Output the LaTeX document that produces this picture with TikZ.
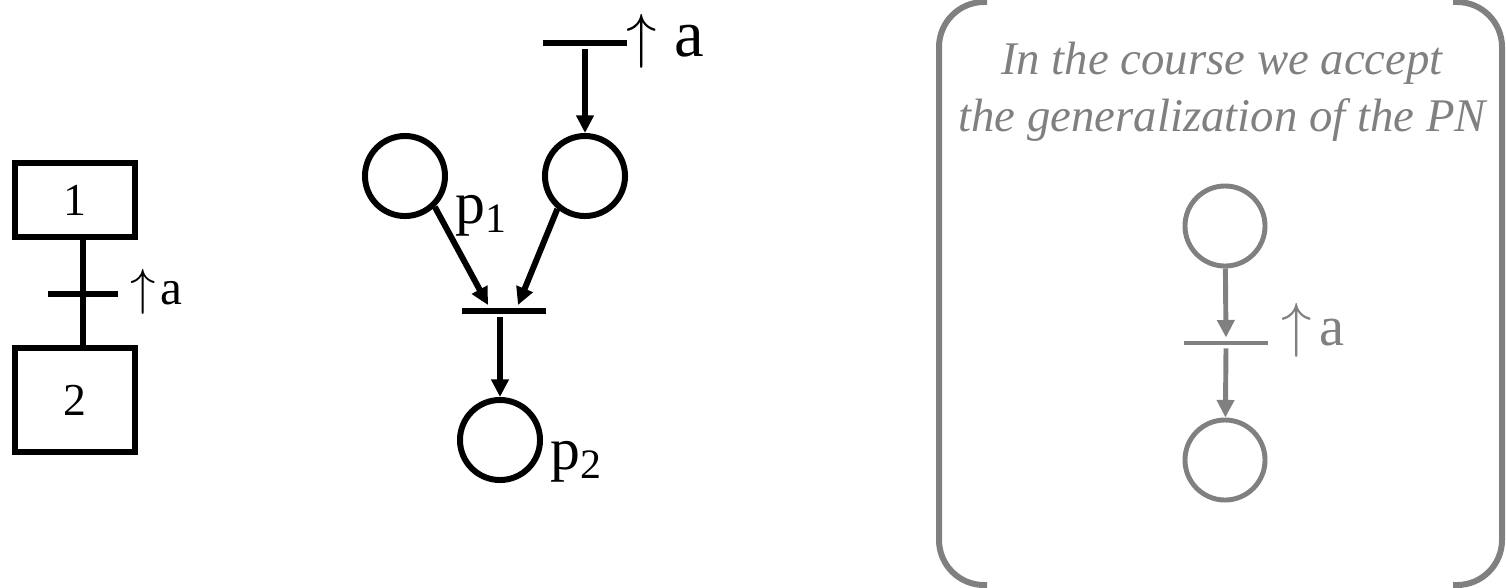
\documentclass[tikz,border=0pt]{standalone}
\usepackage{fontspec}
\setmainfont{Liberation Serif}
\usetikzlibrary{arrows.meta,positioning,calc}
\definecolor{cGray}{HTML}{808080}

\begin{document}
\begin{tikzpicture}[
    x=0.01cm, y=-0.01cm,
    line width=1.7pt,
    stepbox/.style={draw, line width=1.7pt, minimum width=1.2cm, inner sep=0pt, font=\fontsize{13}{15}\selectfont},
    place/.style={draw, circle, line width=1.7pt, minimum size=0.80cm, inner sep=0pt},
    trans/.style={fill, inner sep=0pt, minimum width=0.84cm, minimum height=1.7pt},
    arr/.style={-{Triangle[length=5pt,width=4.8pt]}, line width=1.7pt},
    big/.style={font=\fontsize{17}{20}\selectfont},
    gplace/.style={place, draw=cGray, line width=1.4pt},
    garr/.style={arr, draw=cGray, line width=1.4pt}
]
\useasboundingbox (0,0) rectangle (1506,587);

\node[stepbox, minimum height=0.74cm] (s1) at (75,200) {1};
\node[stepbox, minimum height=1.04cm] (s2) at (75,400) {2};
\node[trans, minimum width=0.7cm] (t0) at (83,294) {};
\draw (s1.south -| t0) -- (s2.north -| t0);
\node[anchor=west, font=\fontsize{14}{16}\selectfont] (e0) at (116,292) {$\uparrow$\hspace{1.2pt}a};

\node[trans] (ta) at (585,43) {};
\node[anchor=west, inner sep=0pt, font=\fontsize{19}{22}\selectfont] (ea) at (624,41) {$\uparrow$ a};
\node[place] (pr) at (585,176) {};
\node[place] (p1) at (405,176) {};
\node[anchor=west, big] (l1) at (441,216) {p\textsubscript{1}};
\node[trans] (tb) at (504,311) {};
\node[place] (p2) at (500,440) {};
\node[anchor=west, big] (l2) at (536,462) {p\textsubscript{2}};

\draw[arr] (ta) -- (pr);
\draw[arr] (p1.-46) -- ([xshift=-0.16cm]tb.north);
\draw[arr] (pr.-130) -- ([xshift=0.14cm]tb.north);
\draw[arr] (tb.south -| p2.north) -- (p2.north);

\draw[cGray, line width=1.7pt, rounded corners=0.45cm] (987,2) -- (939,2) -- (939,585) -- (987,585);
\draw[cGray, line width=1.7pt, rounded corners=0.45cm] (1453,2) -- (1502,2) -- (1502,585) -- (1453,585);
\node[text=cGray, font=\fontsize{13.3}{16.2}\selectfont\itshape, align=center] (note) at (1222,92) {In the course we accept\\the generalization of the PN};

\node[gplace] (g1) at (1225,226) {};
\node[trans, fill=cGray, minimum height=1.4pt] (tg) at (1226,343) {};
\node[gplace] (g2) at (1225,460) {};
\node[anchor=west, text=cGray, font=\fontsize{16}{18}\selectfont] (eg) at (1267,330) {$\uparrow$\hspace{2pt}a};
\draw[garr] (g1) -- (tg.north);
\draw[garr] (tg.south) -- (g2);

\end{tikzpicture}
\end{document}
